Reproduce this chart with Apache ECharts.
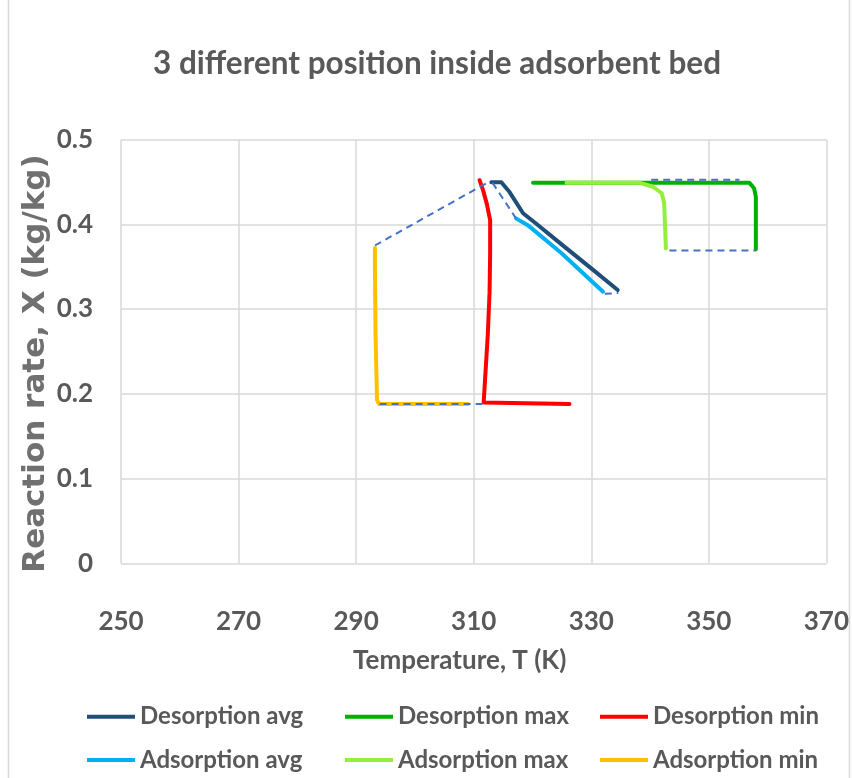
<!DOCTYPE html>
<html>
<head>
<meta charset="utf-8">
<script src="https://cdn.jsdelivr.net/npm/echarts@6/dist/echarts.min.js"></script>
<style>
html,body{margin:0;padding:0;background:#fff;}
#chart{width:852px;height:778px;}
</style>
</head>
<body>
<div id="chart"></div>
<script>
// ---- data (T in K, X in kg/kg) ----
const titleText = "3 different position inside adsorbent bed";
const xAxisName = "Temperature, T (K)";
const yAxisName = "Reaction rate, X (kg/kg)";
const xTicks = [250, 270, 290, 310, 330, 350, 370];
const yTicks = [0, 0.1, 0.2, 0.3, 0.4, 0.5];

const desorptionAvg = [[313.0,0.4495],[314.7,0.4495],[316.1,0.438],[318.4,0.413],[320.6,0.401],[325,0.376],[330,0.348],[334.5,0.3225]];
const desorptionMax = [[320.1,0.449],[356.9,0.449],[357.7,0.4425],[358.0,0.4326],[358.0,0.3705]];
const desorptionMin = [[311.0,0.452],[311.6,0.44],[312.2,0.425],[312.8,0.405],[312.8,0.366],[312.7,0.32],[312.4,0.27],[312.1,0.236],[311.7,0.19],[311.7,0.188],[326.3,0.188]];
const adsorptionAvg = [[317.2,0.407],[319.2,0.399],[325,0.3655],[332.0,0.3205]];
const adsorptionMax = [[325.8,0.449],[338.2,0.449],[340.5,0.4443],[342.0,0.4366],[342.4,0.4248],[342.7,0.3717]];
const adsorptionMin = [[293.2,0.372],[293.2,0.35],[293.3,0.2715],[293.55,0.193],[293.9,0.188],[309.0,0.188]];

// dashed connectors between the cycle branches (not in legend)
const connectorMinTop = [[293.2,0.375],[312.3,0.449]];
const connectorMinBottom = [[294.0,0.188],[311.5,0.188]];
const connectorAvgTop = [[313.2,0.449],[317.2,0.407]];
const connectorAvgBottom = [[332.3,0.318],[334.6,0.319]];
const connectorMaxTop = [[340.2,0.4525],[355.2,0.4525]];
const connectorMaxBottom = [[343.3,0.369],[358.0,0.369]];

const names = ["Desorption avg","Desorption max","Desorption min","Adsorption avg","Adsorption max","Adsorption min"];
const colors = ["#1F4E79","#00B000","#FF0000","#00B0F0","#92F03C","#FFC000"];
const seriesData = [desorptionAvg, desorptionMax, desorptionMin, adsorptionAvg, adsorptionMax, adsorptionMin];
const connectors = [connectorMinTop, connectorMinBottom, connectorAvgTop, connectorAvgBottom, connectorMaxTop, connectorMaxBottom];

const font = "Lato, 'Open Sans', sans-serif";
const gray = "#595959";

const series = [];
seriesData.forEach((d, i) => {
  series.push({
    name: names[i], type: 'line', data: d, symbol: 'none', z: 3 + i,
    lineStyle: { color: colors[i], width: 4, cap: 'round', join: 'round' },
    itemStyle: { color: colors[i] }
  });
});
connectors.forEach((d, i) => {
  series.push({
    name: 'connector' + i, type: 'line', data: d, symbol: 'none', z: 10,
    lineStyle: { color: '#4472C4', width: 2, type: [7, 5] },
    silent: true
  });
});

const legendCommon = {
  orient: 'vertical', top: 701.7, icon: 'rect', itemWidth: 48, itemHeight: 4,
  itemGap: 13.3, padding: 0,
  textStyle: { fontFamily: font, fontSize: 24, fontWeight: 'bold', color: gray, lineHeight: 30 }
};

const chart = echarts.init(document.getElementById('chart'), null, { renderer: 'canvas' });
chart.setOption({
  backgroundColor: '#ffffff',
  animation: false,
  title: {
    text: titleText, left: 153, top: 48, padding: 0,
    textStyle: { fontFamily: font, fontSize: 31.5, fontWeight: 'bold', color: gray }
  },
  legend: [
    Object.assign({ left: 87, data: [names[0], names[3]] }, legendCommon),
    Object.assign({ left: 345, data: [names[1], names[4]] }, legendCommon),
    Object.assign({ left: 600, data: [names[2], names[5]] }, legendCommon)
  ],
  grid: { left: 121, right: 24.5, top: 139.5, bottom: 214.5, containLabel: false },
  xAxis: {
    type: 'value', min: xTicks[0], max: xTicks[xTicks.length - 1], interval: xTicks[1] - xTicks[0],
    name: xAxisName, nameLocation: 'middle', nameGap: 84, nameMoveOverlap: false,
    nameTextStyle: { fontFamily: font, fontSize: 26, fontWeight: 'bold', color: gray, padding: [0, 28, 0, 0] },
    axisLine: { show: false }, axisTick: { show: false },
    axisLabel: { fontFamily: font, fontSize: 26, fontWeight: 'bold', color: gray, margin: 45 },
    splitLine: { show: true, lineStyle: { color: '#D9D9D9', width: 1.5 } }
  },
  yAxis: {
    type: 'value', min: yTicks[0], max: yTicks[yTicks.length - 1], interval: 0.1,
    name: yAxisName, nameLocation: 'middle', nameGap: 70, nameMoveOverlap: false,
    nameTextStyle: { fontFamily: "'DejaVu Sans', Verdana, sans-serif", fontSize: 31, fontWeight: 'bold', color: '#707070', padding: [0, 24, 0, 0] },
    axisLine: { show: false }, axisTick: { show: false },
    axisLabel: { fontFamily: font, fontSize: 26, fontWeight: 'bold', color: gray, margin: 28,
      formatter: v => (Math.round(v * 10) / 10).toString() },
    splitLine: { show: true, lineStyle: { color: '#D9D9D9', width: 1.5 } }
  },
  graphic: [
    { type: 'line', shape: { x1: 8.5, y1: 0, x2: 8.5, y2: 778 }, style: { stroke: '#D9D9D9', lineWidth: 1.5 } },
    { type: 'line', shape: { x1: 849.5, y1: 0, x2: 849.5, y2: 778 }, style: { stroke: '#D9D9D9', lineWidth: 1.5 } }
  ],
  series: series
});
</script>
</body>
</html>
